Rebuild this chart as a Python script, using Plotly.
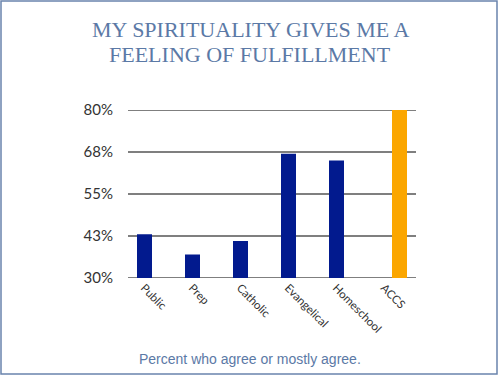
import plotly.graph_objects as go

categories = ["Public", "Prep", "Catholic", "Evangelical", "Homeschool", "ACCS"]
other_values = [43, 37, 41, 67, 65, None]
accs_values = [None, None, None, None, None, 80]
tick_vals = [30, 42.5, 55, 67.5, 80]
tick_text = ["30%", "43%", "55%", "68%", "80%"]
title_lines = ["MY SPIRITUALITY GIVES ME A", "FEELING OF FULFILLMENT"]

W, H = 500, 376
L, R, T, B = 128, 84, 110, 98
pw, ph = W - L - R, H - T - B

def px_x(x):
    return (x - L) / pw

def px_y(y):
    return (H - B - y) / ph

fig = go.Figure()
fig.add_trace(go.Bar(x=categories, y=other_values, marker_color="#021a8e",
                     marker_line_width=0, showlegend=False))
fig.add_trace(go.Bar(x=categories, y=accs_values, marker_color="#fba600",
                     marker_line_width=0, showlegend=False))

grid_shapes = [dict(type="line", xref="paper", yref="y", x0=0, x1=1, y0=v, y1=v,
                    line=dict(color="#555555", width=1.5), layer="below")
               for v in tick_vals]

title_font = dict(family="Liberation Serif", size=22, color="#5b79a6")
annotations = [dict(text=t, xref="paper", yref="paper", x=px_x(250), y=px_y(yc),
                    xanchor="center", yanchor="middle", showarrow=False, font=title_font)
               for t, yc in zip(title_lines, [30, 54])]
annotations.append(dict(text="Percent who agree or mostly agree.",
                        xref="paper", yref="paper",
                        x=px_x(249.5), y=px_y(359), xanchor="center", yanchor="middle",
                        showarrow=False,
                        font=dict(family="Liberation Sans", size=14, color="#5b79a6")))

fig.update_layout(
    width=W, height=H,
    margin=dict(l=L, r=R, t=T, b=B),
    paper_bgcolor="white", plot_bgcolor="white",
    barmode="group", bargap=0.375, bargroupgap=0,
    xaxis=dict(tickangle=45, tickfont=dict(family="Lato", size=11.5, color="#333333"),
               showgrid=False, showline=False, ticks="", ticklabelshift=-8),
    yaxis=dict(range=[30, 80], tickvals=tick_vals, ticktext=tick_text,
               showgrid=False, zeroline=False, showline=False, ticks="",
               ticklabelstandoff=14,
               tickfont=dict(family="Lato", size=15, color="#333333")),
    annotations=annotations,
    shapes=grid_shapes + [dict(type="rect", xref="paper", yref="paper",
                 x0=px_x(1), x1=px_x(497), y0=px_y(374), y1=px_y(1),
                 line=dict(color="#6a84ad", width=1.5), layer="above")],
)

fig.write_html("out.html")
